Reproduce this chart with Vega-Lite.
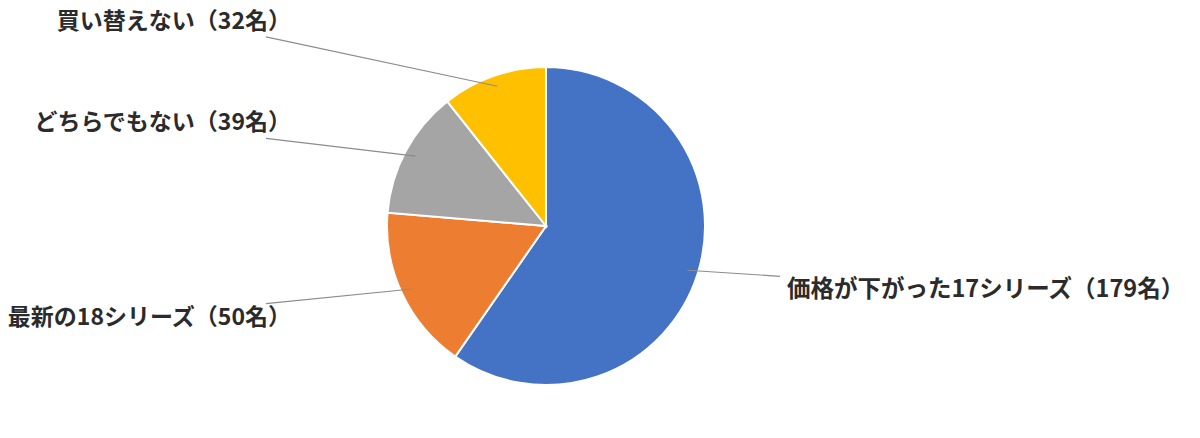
{
  "$schema": "https://vega.github.io/schema/vega-lite/v6.json",
  "width": 1092,
  "height": 420,
  "autosize": {"type": "none"},
  "padding": {"left": 0, "top": 16, "right": 108, "bottom": 2},
  "background": "white",
  "config": {"view": {"stroke": null}},
  "data": {
    "values": [
      {"answer": "価格が下がった17シリーズ", "count": 179},
      {"answer": "最新の18シリーズ", "count": 50},
      {"answer": "どちらでもない", "count": 39},
      {"answer": "買い替えない", "count": 32}
    ]
  },
  "transform": [
    {"window": [{"op": "sum", "field": "count", "as": "cum"}], "sort": [{"field": "count", "order": "descending"}], "frame": [null, 0]},
    {"joinaggregate": [{"op": "sum", "field": "count", "as": "total"}]},
    {"calculate": "datum.answer + '（' + datum.count + '名）'", "as": "label"},
    {"calculate": "(datum.cum - datum.count / 2) / datum.total * 2 * PI", "as": "a"},
    {"calculate": "sin(datum.a) > 0 ? 1 : -1", "as": "side"},
    {"calculate": "148 * sin(datum.a)", "as": "x1"},
    {"calculate": "148 * cos(datum.a)", "as": "y1"},
    {"calculate": "datum.side > 0 ? 234 : -280", "as": "x2"},
    {"calculate": "215 * cos(datum.a) - (cos(datum.a) > 0 ? 14 : -14)", "as": "y2"},
    {"calculate": "datum.side > 0 ? 241 : -255", "as": "lx"},
    {"calculate": "datum.y2 + (datum.y2 > 0 ? 15 : -14)", "as": "ly"}
  ],
  "layer": [
    {
      "mark": {"type": "arc", "outerRadius": 159, "stroke": "white", "strokeWidth": 2},
      "encoding": {
        "theta": {"field": "count", "type": "quantitative", "stack": true},
        "order": {"field": "count", "type": "quantitative", "sort": "descending"},
        "color": {
          "field": "answer",
          "type": "nominal",
          "legend": null,
          "scale": {
            "domain": ["価格が下がった17シリーズ", "最新の18シリーズ", "どちらでもない", "買い替えない"],
            "range": ["#4472C4", "#ED7D31", "#A5A5A5", "#FFC000"]
          }
        }
      }
    },
    {
      "mark": {"type": "rule", "color": "#8c8c8c", "strokeWidth": 1.2},
      "encoding": {
        "x": {"field": "x1", "type": "quantitative", "axis": null, "scale": {"domain": [-546, 546], "nice": false, "zero": false}},
        "y": {"field": "y1", "type": "quantitative", "axis": null, "scale": {"domain": [-210, 210], "nice": false, "zero": false}},
        "x2": {"field": "x2"},
        "y2": {"field": "y2"}
      }
    },
    {
      "transform": [{"filter": "datum.side > 0"}],
      "mark": {"type": "text", "align": "left", "baseline": "middle", "font": "Noto Sans CJK JP", "fontWeight": "bold", "fontSize": 23.5, "color": "#2b2b2b"},
      "encoding": {
        "x": {"field": "lx", "type": "quantitative"},
        "y": {"field": "ly", "type": "quantitative"},
        "text": {"field": "label"}
      }
    },
    {
      "transform": [{"filter": "datum.side < 0"}],
      "mark": {"type": "text", "align": "right", "baseline": "middle", "font": "Noto Sans CJK JP", "fontWeight": "bold", "fontSize": 23, "color": "#2b2b2b"},
      "encoding": {
        "x": {"field": "lx", "type": "quantitative"},
        "y": {"field": "ly", "type": "quantitative"},
        "text": {"field": "label"}
      }
    }
  ]
}
